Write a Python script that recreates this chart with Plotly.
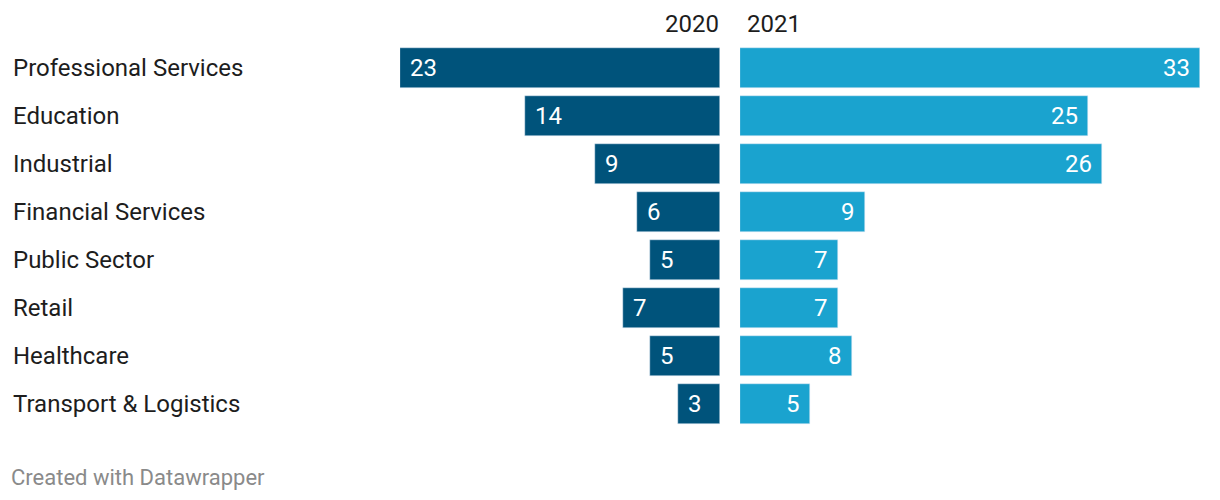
import plotly.graph_objects as go

categories = ["Professional Services", "Education", "Industrial", "Financial Services",
              "Public Sector", "Retail", "Healthcare", "Transport & Logistics"]
values_2020 = [23, 14, 9, 6, 5, 7, 5, 3]
values_2021 = [33, 25, 26, 9, 7, 7, 8, 5]
years = ["2020", "2021"]

# page body has an 8px margin; work in figure coordinates
OFF = 8
W, H = 1220 - OFF, 500 - OFF
DARK = "#00537b"
LIGHT = "#1aa3cf"
TEXT = "#1d1d1d"
FONT = "Roboto"
FS = 24

def px(x):
    return (x - OFF) / W

def py(y):
    return 1 - (y - OFF) / H

fig = go.Figure()
fig.add_trace(go.Bar(y=categories, x=values_2020, orientation="h", marker_color=DARK,
                     width=40/48, xaxis="x", yaxis="y", hoverinfo="x+y", name=years[0]))
fig.add_trace(go.Bar(y=categories, x=values_2021, orientation="h", marker_color=LIGHT,
                     width=40/48, xaxis="x2", yaxis="y", hoverinfo="x+y", name=years[1]))

ann = []
for c, v in zip(categories, values_2020):
    ann.append(dict(x=v, y=c, xref="x", yref="y", text=str(v), showarrow=False,
                    xanchor="left", xshift=8, font=dict(family=FONT, size=FS, color="white")))
for c, v in zip(categories, values_2021):
    ann.append(dict(x=v, y=c, xref="x2", yref="y", text=str(v), showarrow=False,
                    xanchor="right", xshift=-8, font=dict(family=FONT, size=FS, color="white")))
for c in categories:
    ann.append(dict(x=px(11), y=c, xref="paper", yref="y", text=c, showarrow=False,
                    xanchor="left", font=dict(family=FONT, size=FS, color=TEXT)))
ann.append(dict(x=px(721), y=py(24), xref="paper", yref="paper", text=years[0], showarrow=False,
                xanchor="right", yanchor="middle", font=dict(family=FONT, size=FS, color=TEXT)))
ann.append(dict(x=px(745), y=py(24), xref="paper", yref="paper", text=years[1], showarrow=False,
                xanchor="left", yanchor="middle", font=dict(family=FONT, size=FS, color=TEXT)))
ann.append(dict(x=px(9), y=py(477), xref="paper", yref="paper", text="Created with Datawrapper",
                showarrow=False, xanchor="left", yanchor="middle",
                font=dict(family=FONT, size=22, color="#8a8a8a")))

fig.update_layout(
    width=W, height=H, margin=dict(l=0, r=0, t=0, b=0),
    paper_bgcolor="white", plot_bgcolor="white", showlegend=False,
    bargap=0, annotations=ann,
    xaxis=dict(domain=[px(400), px(720)], range=[max(values_2020), 0], visible=False, fixedrange=True),
    xaxis2=dict(domain=[px(740), px(1200)], range=[0, max(values_2021)], visible=False, anchor="y",
                fixedrange=True),
    yaxis=dict(domain=[py(428), py(44)], range=[len(categories)-0.5, -0.5], visible=False,
               type="category", fixedrange=True),
)
fig.write_html("out.html", config={"displayModeBar": False})
